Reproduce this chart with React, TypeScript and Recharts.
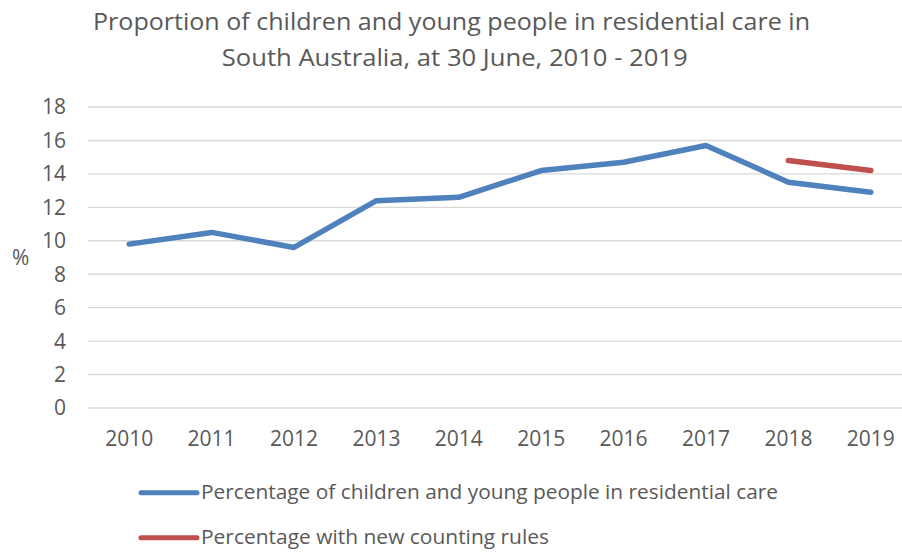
import React from 'react';
import { LineChart, Line, XAxis, YAxis, CartesianGrid } from 'recharts';

const years = ['2010', '2011', '2012', '2013', '2014', '2015', '2016', '2017', '2018', '2019'];
const residentialCare = [9.8, 10.5, 9.6, 12.4, 12.6, 14.2, 14.7, 15.7, 13.5, 12.9];
const newCountingRules = [null, null, null, null, null, null, null, null, 14.8, 14.2];
const yTicks = [0, 2, 4, 6, 8, 10, 12, 14, 16, 18];

const titleLines = [
  'Proportion of children and young people in residential care in',
  'South Australia, at 30 June, 2010 - 2019',
];

const series = [
  { key: 'residential', name: 'Percentage of children and young people in residential care', color: '#4F81BD' },
  { key: 'newRules', name: 'Percentage with new counting rules', color: '#C0504D' },
];

const textColor = '#595959';
const font = '"Open Sans", sans-serif';

export default function App() {
  const data = years.map((year, i) => ({
    year,
    residential: residentialCare[i],
    newRules: newCountingRules[i],
  }));

  const titleLayout = [
    { x: 451.5, y: 30, len: 717 },
    { x: 454.7, y: 65.7, len: 466 },
  ];
  const legendLayout = [
    { y: 492.7, len: 577 },
    { y: 537.7, len: 348 },
  ];

  return (
    <div style={{ position: 'fixed', left: 0, top: 0, width: 902, height: 552, overflow: 'hidden', background: '#fff' }}>
      <LineChart
        width={920}
        height={552}
        data={data}
        margin={{ top: 107, right: 8, bottom: 0, left: 0 }}
        style={{ fontFamily: font }}
      >
        <CartesianGrid vertical={false} stroke="#D9D9D9" strokeWidth={1.4} />
        <XAxis
          dataKey="year"
          height={144}
          padding={{ left: 41.2, right: 41.2 }}
          axisLine={false}
          tickLine={false}
          tickSize={0}
          tickMargin={23}
          interval={0}
          tick={{ fill: textColor, fontSize: 21, fontFamily: font }}
        />
        <YAxis
          width={88}
          domain={[0, 18]}
          ticks={yTicks}
          axisLine={false}
          tickLine={false}
          tickSize={0}
          tickMargin={22}
          tick={{ fill: textColor, fontSize: 21, fontFamily: font }}
          label={{ value: '%', position: 'insideLeft', angle: 0, dx: 7, fill: textColor, fontSize: 21, fontFamily: font }}
        />
        {series.map((s) => (
          <Line
            key={s.key}
            dataKey={s.key}
            name={s.name}
            stroke={s.color}
            strokeWidth={5.5}
            strokeLinecap="round"
            strokeLinejoin="round"
            dot={false}
            activeDot={false}
            connectNulls={false}
            isAnimationActive={false}
          />
        ))}
      </LineChart>

      <svg
        width={902}
        height={552}
        style={{ position: 'absolute', left: 0, top: 0, pointerEvents: 'none', fontFamily: font }}
      >
        {titleLines.map((line, i) => (
          <text
            key={i}
            x={titleLayout[i].x}
            y={titleLayout[i].y}
            textAnchor="middle"
            fontSize={23}
            fill={textColor}
            textLength={titleLayout[i].len}
            lengthAdjust="spacingAndGlyphs"
          >
            {line}
          </text>
        ))}
        {series.map((s, i) => (
          <g key={s.key}>
            <line
              x1={141}
              x2={197}
              y1={legendLayout[i].y}
              y2={legendLayout[i].y}
              stroke={s.color}
              strokeWidth={5}
              strokeLinecap="round"
            />
            <text
              x={201}
              y={legendLayout[i].y + 5.8}
              fontSize={20}
              fill={textColor}
              textLength={legendLayout[i].len}
              lengthAdjust="spacingAndGlyphs"
            >
              {s.name}
            </text>
          </g>
        ))}
      </svg>
    </div>
  );
}
